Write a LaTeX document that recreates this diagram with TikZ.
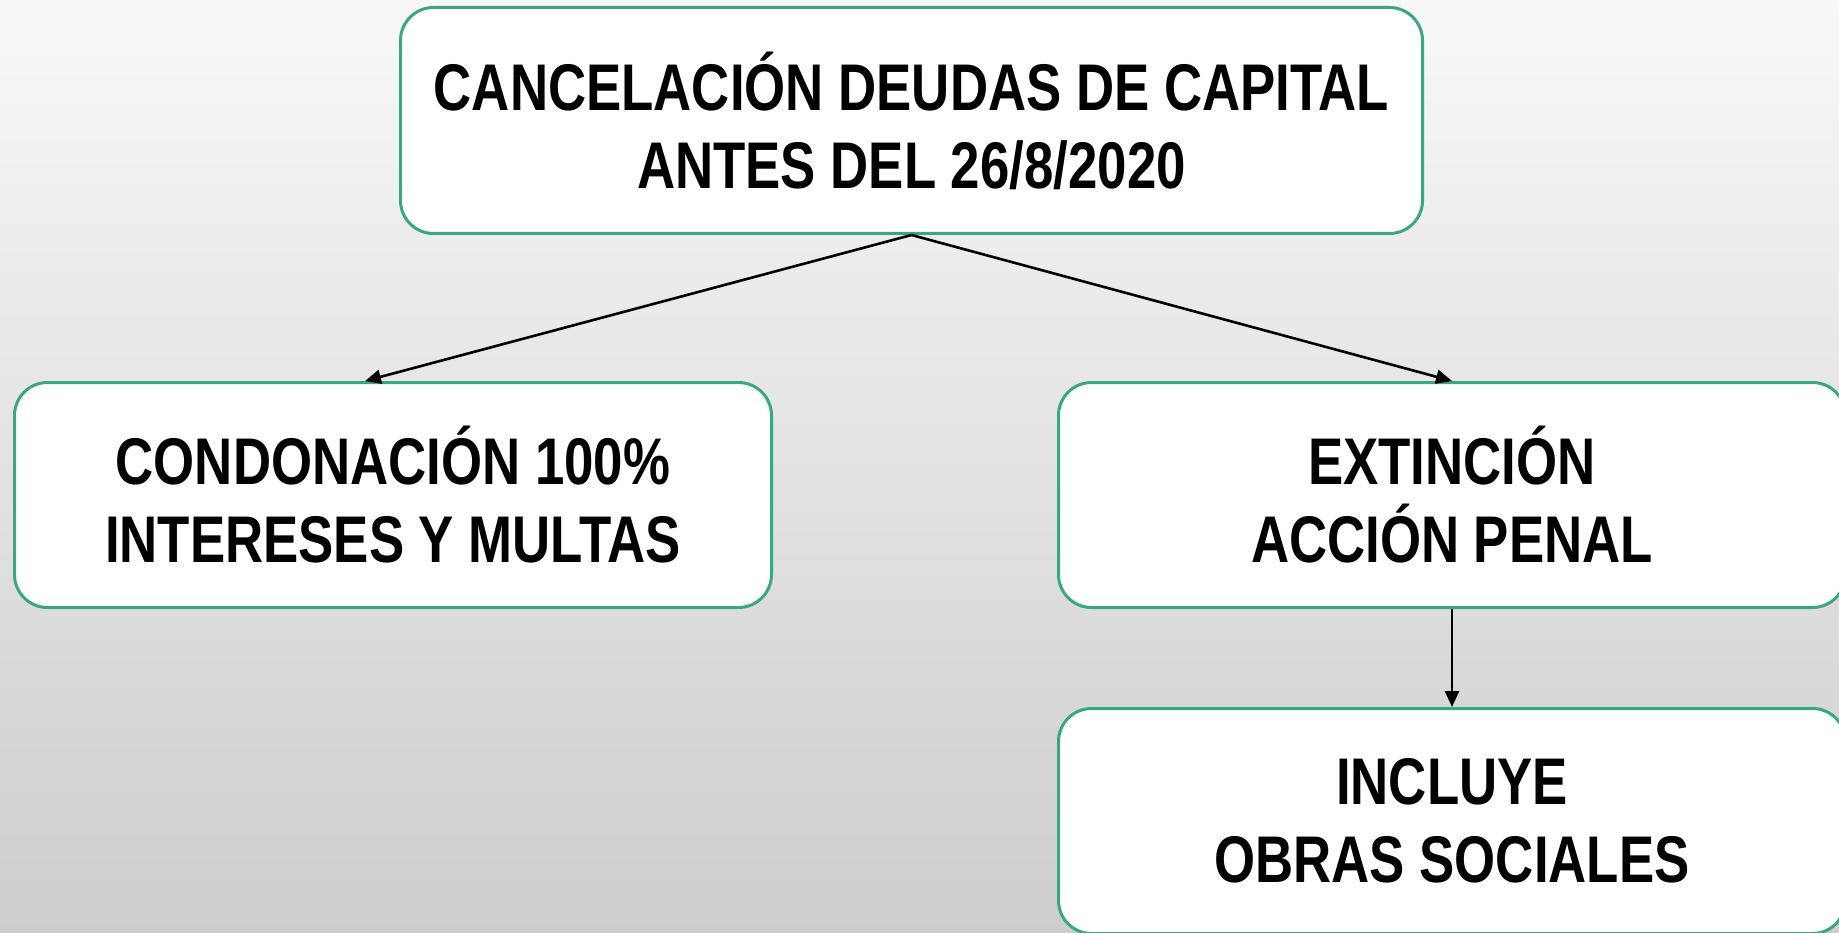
\documentclass[tikz,border=0pt]{standalone}
\usepackage{fontspec}
\setmainfont{Liberation Sans}[FakeStretch=0.80]
\usetikzlibrary{arrows.meta}
\definecolor{boxgreen}{RGB}{58,167,131}
\definecolor{bgtop}{HTML}{F8F8F8}
\definecolor{bgbottom}{HTML}{CDCDCD}
\begin{document}
\begin{tikzpicture}[x=1pt, y=-1pt,
    stage/.style={draw=boxgreen, line width=3pt, fill=white, rounded corners=33pt,
      align=center, inner sep=0pt, font=\bfseries\fontsize{66}{78}\selectfont},
    flow/.style={draw=black, line width=2.6pt, -{Triangle[length=16pt,width=14pt]}}]
      \useasboundingbox (0,0) rectangle (1839,933);
      \shade[top color=bgtop, bottom color=bgbottom] (0,0) rectangle (1839,933);

      \node[stage, minimum width=1022pt, minimum height=226pt] (cancelacion) at (911.5, 120.5)
        {CANCELACIÓN DEUDAS DE CAPITAL\\ANTES DEL 26/8/2020};
      \node[stage, minimum width=757pt, minimum height=225pt] (condonacion) at (393, 495)
        {CONDONACIÓN 100\%\\INTERESES Y MULTAS};
      \node[stage, minimum width=787pt, minimum height=225pt] (extincion) at (1452, 495)
        {EXTINCIÓN\\ACCIÓN PENAL};
      \node[stage, minimum width=787pt, minimum height=225pt] (incluye) at (1452, 821)
        {INCLUYE\\OBRAS SOCIALES};
      \coordinate (condtip) at (365, 381);

      \draw[flow] (cancelacion.south) -- (condtip);
      \draw[flow] (cancelacion.south) -- (extincion.north);
      \draw[flow] (extincion.south) -- (incluye.north);
    \end{tikzpicture}
\end{document}
